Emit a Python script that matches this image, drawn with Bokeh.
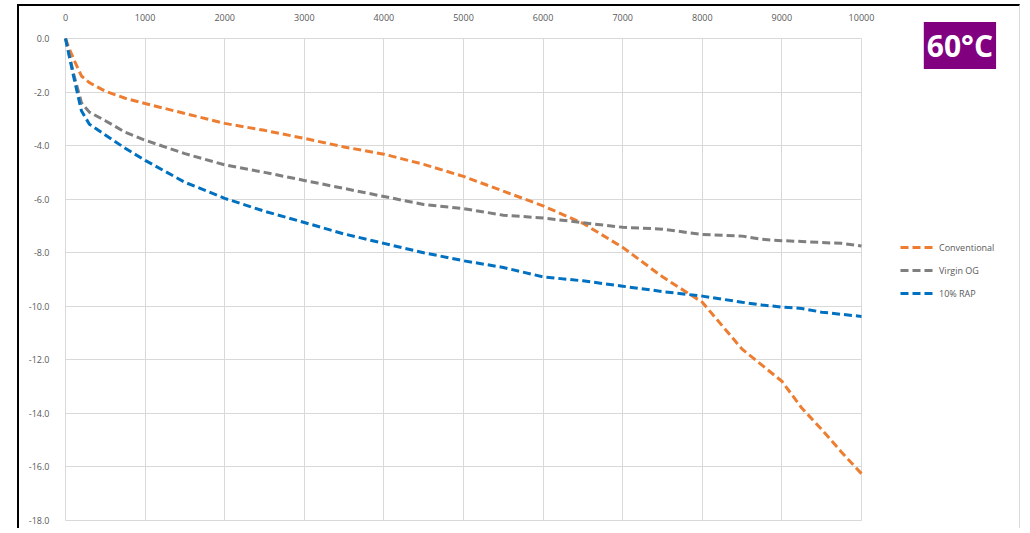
from bokeh.plotting import figure
from bokeh.models import Range1d, FixedTicker, PrintfTickFormatter, Legend, LegendItem, Label
from bokeh.embed import file_html
from bokeh.resources import INLINE

# ---------------- data ----------------
x_vals = [0, 50, 100, 200, 300, 500, 750, 1000, 1500, 2000, 2500, 3000, 3500, 4000,
          4500, 5000, 5500, 6000, 6500, 7000, 7500, 8000, 8500, 8750, 9000, 9250,
          9500, 9750, 10000]
conventional = [0, -0.4, -0.75, -1.4, -1.65, -1.97, -2.23, -2.43, -2.8, -3.17, -3.43,
                -3.73, -4.05, -4.32, -4.7, -5.15, -5.7, -6.25, -6.9, -7.8, -8.9, -9.85,
                -11.6, -12.2, -12.8, -13.8, -14.6, -15.45, -16.25]
virgin_og = [0, -0.65, -1.3, -2.4, -2.75, -3.07, -3.5, -3.8, -4.3, -4.72, -5.0, -5.3,
             -5.6, -5.9, -6.2, -6.35, -6.6, -6.7, -6.88, -7.05, -7.12, -7.32, -7.38,
             -7.5, -7.55, -7.58, -7.62, -7.65, -7.75]
rap10 = [0, -0.7, -1.4, -2.7, -3.2, -3.6, -4.1, -4.55, -5.37, -5.97, -6.45, -6.87,
         -7.3, -7.65, -8.0, -8.3, -8.55, -8.9, -9.05, -9.25, -9.45, -9.62, -9.85,
         -9.95, -10.03, -10.08, -10.22, -10.3, -10.38]
series_names = ["Conventional", "Virgin OG", "10% RAP"]
series_colors = ["#ED7D31", "#7F7F7F", "#0070C0"]
x_ticks = [0, 1000, 2000, 3000, 4000, 5000, 6000, 7000, 8000, 9000, 10000]
y_ticks = [0, -2, -4, -6, -8, -10, -12, -14, -16, -18]
badge_text = "60°C"

FONT = "Open Sans"
GRID = "#d9d9d9"

p = figure(width=1003, height=524,
           x_range=Range1d(-63, 12023), y_range=Range1d(-18.373, 1.195),
           x_axis_location="above",
           output_backend="svg", toolbar_location=None,
           min_border_left=41, min_border_top=0,
           min_border_right=0, min_border_bottom=0)
p.styles = {"margin-left": "17px", "margin-top": "4px",
            "border-left": "2px solid #000", "border-top": "2px solid #000",
            "border-right": "1px solid #d9d9d9"}
p.outline_line_color = None
p.background_fill_color = "white"
p.border_fill_color = "white"

for ax in (p.xaxis[0], p.yaxis[0]):
    ax.major_tick_line_color = None
    ax.minor_tick_line_color = None
    ax.axis_line_color = None
    ax.major_label_text_font = FONT
    ax.major_label_text_font_size = "9px"
    ax.major_label_text_color = "#595959"

xa = p.xaxis[0]
xa.ticker = FixedTicker(ticks=x_ticks)
xa.fixed_location = 0
xa.major_label_standoff = 12

ya = p.yaxis[0]
ya.ticker = FixedTicker(ticks=y_ticks)
ya.formatter = PrintfTickFormatter(format="%.1f")
ya.major_label_standoff = 5

p.xgrid.ticker = FixedTicker(ticks=x_ticks)
p.ygrid.ticker = FixedTicker(ticks=y_ticks)
p.xgrid.cross_bounds = (-18, 0)
p.ygrid.cross_bounds = (0, 10000)
p.grid.grid_line_color = GRID
p.grid.grid_line_width = 1

renderers = []
for ys, c in zip([conventional, virgin_og, rap10], series_colors):
    r = p.line(x_vals, ys, line_color=c, line_width=3, line_dash="8 4")
    renderers.append(r)

legend = Legend(items=[LegendItem(label=n, renderers=[r]) for n, r in zip(series_names, renderers)],
                location=(840, 227))
legend.label_text_font = FONT
legend.label_text_font_size = "9px"
legend.label_text_color = "#595959"
legend.glyph_width = 34
legend.glyph_height = 20
legend.label_height = 20
legend.spacing = 3
legend.padding = 10
legend.border_line_color = None
legend.background_fill_alpha = 0
p.add_layout(legend)

badge = Label(x=11237, y=-0.26, text=badge_text, text_align="center", text_baseline="middle",
              text_font=FONT, text_font_size="30px", text_font_style="bold",
              text_color="white", background_fill_color="#800080", padding=3)
p.add_layout(badge)

open("out.html", "w").write(file_html(p, INLINE))
